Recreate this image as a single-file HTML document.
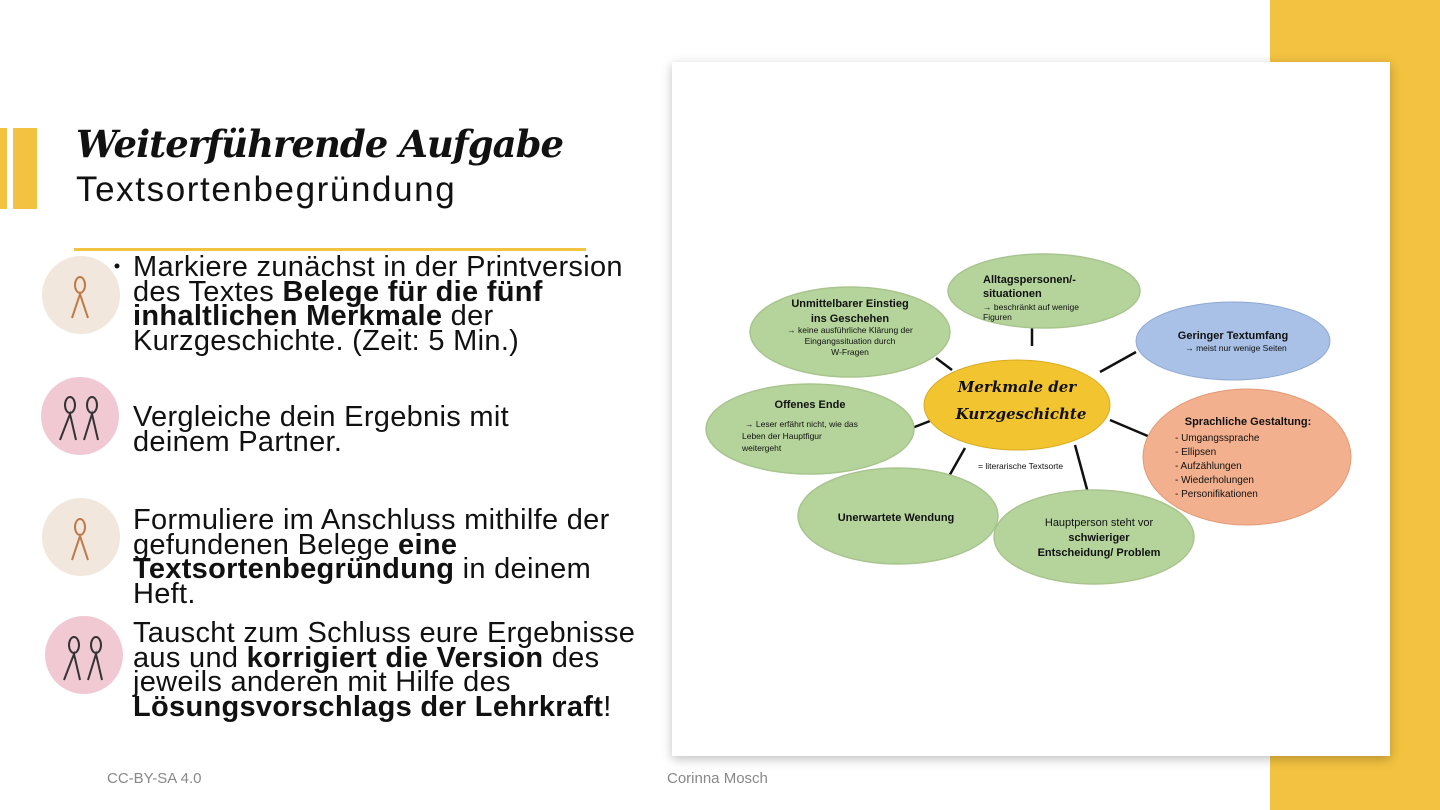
<!DOCTYPE html>
<html><head><meta charset="utf-8"><style>
*{margin:0;padding:0;box-sizing:border-box}
body{width:1440px;height:810px;position:relative;background:#fff;overflow:hidden;font-family:"Liberation Sans","DejaVu Sans",sans-serif}
.abs{position:absolute}
.t{position:absolute;left:133px;font-size:29px;line-height:24.5px;color:#111;letter-spacing:0.3px}
.ic{position:absolute;width:78px;height:78px;border-radius:50%}
</style></head><body>
<div class="abs" style="left:1270px;top:0;width:170px;height:810px;background:#f2c240"></div>
<div class="abs" style="left:672px;top:62px;width:718px;height:694px;background:#fff;box-shadow:0 3px 10px rgba(0,0,0,0.25)"></div>
<div class="abs" style="left:0;top:128px;width:7px;height:81px;background:#f2c240"></div>
<div class="abs" style="left:13px;top:128px;width:24px;height:81px;background:#f2c240"></div>
<div class="abs" style="left:76px;top:122px;font-family:'DejaVu Serif',serif;font-style:italic;font-weight:bold;font-size:37px;color:#111;letter-spacing:-1px">Weiterführende Aufgabe</div>
<div class="abs" style="left:76px;top:170px;font-size:35px;color:#111;letter-spacing:1.6px">Textsortenbegründung</div>
<div class="abs" style="left:74px;top:248px;width:512px;height:3px;background:#f2c240"></div>

<div class="ic" style="left:42px;top:256px;background:#f1e7dc"></div>
<div class="ic" style="left:41px;top:377px;background:#f0c9d3"></div>
<div class="ic" style="left:42px;top:498px;background:#f1e7dc"></div>
<div class="ic" style="left:45px;top:616px;background:#f0c9d3"></div>
<svg class="abs" style="left:0;top:0" width="200" height="810">
<g fill="none" stroke="#c07a4a" stroke-width="2"><ellipse cx="80" cy="285" rx="5" ry="8"/><path d="M72 318 L80 294 L88 318"/>
<ellipse cx="80" cy="527" rx="5" ry="8"/><path d="M72 560 L80 536 L88 560"/></g>
<g fill="none" stroke="#333" stroke-width="2"><ellipse cx="70" cy="405" rx="5" ry="8"/><path d="M60 440 L70 414 L76 440"/><ellipse cx="92" cy="405" rx="5" ry="8"/><path d="M84 440 L92 414 L98 440"/>
<ellipse cx="74" cy="645" rx="5" ry="8"/><path d="M64 680 L74 654 L80 680"/><ellipse cx="96" cy="645" rx="5" ry="8"/><path d="M88 680 L96 654 L102 680"/></g>
<circle cx="117" cy="266" r="2.5" fill="#111"/>
</svg>

<div class="t" style="top:255px">Markiere zunächst in der Printversion<br>des Textes <b>Belege für die fünf<br>inhaltlichen Merkmale</b> der<br>Kurzgeschichte. (Zeit: 5 Min.)</div>
<div class="t" style="top:405px">Vergleiche dein Ergebnis mit<br>deinem Partner.</div>
<div class="t" style="top:508px">Formuliere im Anschluss mithilfe der<br>gefundenen Belege <b>eine<br>Textsortenbegründung</b> in deinem<br>Heft.</div>
<div class="t" style="top:621px">Tauscht zum Schluss eure Ergebnisse<br>aus und <b>korrigiert die Version</b> des<br>jeweils anderen mit Hilfe des<br><b>Lösungsvorschlags der Lehrkraft</b>!</div>

<svg class="abs" style="left:0;top:0" width="1440" height="810">
<g stroke="#111" stroke-width="2.5">
<line x1="1032" y1="327" x2="1032" y2="346"/><line x1="936" y1="358" x2="952" y2="370"/>
<line x1="1136" y1="352" x2="1100" y2="372"/><line x1="912" y1="428" x2="930" y2="421"/>
<line x1="1110" y1="420" x2="1150" y2="437"/><line x1="965" y1="448" x2="948" y2="478"/>
<line x1="1075" y1="445" x2="1088" y2="493"/></g>
<g stroke="#a9c48e" stroke-width="1.5" fill="#b5d49c">
<ellipse cx="850" cy="332" rx="100" ry="45"/><ellipse cx="1044" cy="291" rx="96" ry="37"/>
<ellipse cx="810" cy="429" rx="104" ry="45"/><ellipse cx="898" cy="516" rx="100" ry="48"/>
<ellipse cx="1094" cy="537" rx="100" ry="47"/></g>
<ellipse cx="1233" cy="341" rx="97" ry="39" fill="#a9c1e6" stroke="#8fa9d4"/>
<ellipse cx="1247" cy="457" rx="104" ry="68" fill="#f2b08e" stroke="#e39a78"/>
<ellipse cx="1017" cy="405" rx="93" ry="45" fill="#f2c430" stroke="#d9ab20"/>
<g font-family="Liberation Sans,sans-serif" fill="#111">
<g font-size="11" font-weight="bold" text-anchor="middle">
<text x="850" y="307">Unmittelbarer Einstieg</text><text x="850" y="322">ins Geschehen</text>
<text x="1233" y="339">Geringer Textumfang</text>
<text x="810" y="408">Offenes Ende</text>
<text x="896" y="521">Unerwartete Wendung</text>
<text x="1099" y="556">Entscheidung/ Problem</text><text x="1099" y="541">schwieriger</text>
<text x="1248" y="425">Sprachliche Gestaltung:</text></g>
<g font-size="11" font-weight="bold"><text x="983" y="283">Alltagspersonen/-</text><text x="983" y="297">situationen</text></g>
<g font-size="8.5" text-anchor="middle"><text x="850" y="333">→ keine ausführliche Klärung der</text><text x="850" y="344">Eingangssituation durch</text><text x="850" y="355">W-Fragen</text>
<text x="1236" y="351">→ meist nur wenige Seiten</text></g>
<g font-size="8.5"><text x="983" y="310">→ beschränkt auf wenige</text><text x="983" y="320">Figuren</text>
<text x="745" y="427">→ Leser erfährt nicht, wie das</text><text x="742" y="439">Leben der Hauptfigur</text><text x="742" y="451">weitergeht</text>
<text x="978" y="469">= literarische Textsorte</text></g>
<text x="1099" y="526" font-size="11" text-anchor="middle">Hauptperson steht vor</text>
<g font-size="10"><text x="1175" y="441">-   Umgangssprache</text><text x="1175" y="455">-   Ellipsen</text><text x="1175" y="469">-   Aufzählungen</text><text x="1175" y="483">-   Wiederholungen</text><text x="1175" y="497">-   Personifikationen</text></g>
<g font-family="DejaVu Serif,serif" font-style="italic" font-weight="bold" font-size="15" text-anchor="middle"><text x="1017" y="392">Merkmale der</text><text x="1021" y="419">Kurzgeschichte</text></g>
</g>
</svg>
<div class="abs" style="left:107px;top:770px;font-size:15px;color:#888">CC-BY-SA 4.0</div>
<div class="abs" style="left:667px;top:770px;font-size:15px;color:#888">Corinna Mosch</div>
</body></html>
